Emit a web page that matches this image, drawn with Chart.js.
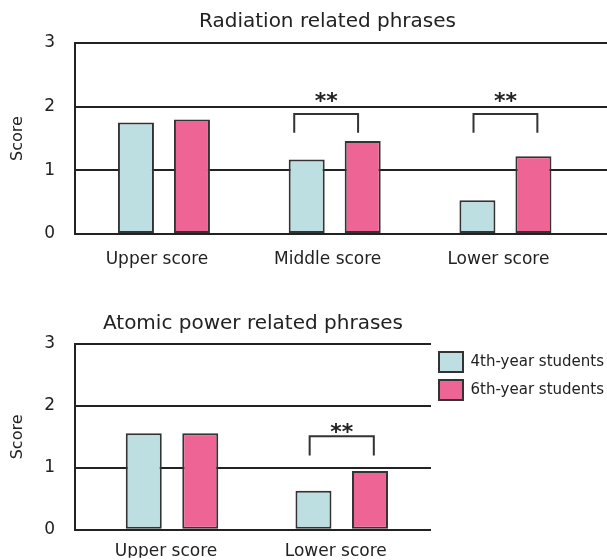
<!DOCTYPE html>
<html>
<head>
<meta charset="utf-8">
<script src="https://cdn.jsdelivr.net/npm/chart.js@4.4.1/dist/chart.umd.min.js"></script>
<style>
html, body { margin: 0; padding: 0; background: #fff; overflow: hidden; }
#wrap { position: relative; width: 607px; height: 560px; overflow: hidden; }
#top { position: absolute; left: 0; top: 0; width: 655px; height: 269px; }
#bottom { position: absolute; left: 0; top: 289px; width: 607px; height: 271px; }
</style>
</head>
<body>
<div id="wrap">
  <div id="top"><canvas id="radiation"></canvas></div>
  <div id="bottom"><canvas id="atomic"></canvas></div>
</div>
<script>
// data
const seriesNames = ['4th-year students', '6th-year students'];

const radCategories = ['Upper score', 'Middle score', 'Lower score'];
const rad4th = [1.75, 1.17, 0.53];
const rad6th = [1.80, 1.46, 1.22];
const radStars = ['', '**', '**'];

const atomCategories = ['Upper score', 'Lower score'];
const atom4th = [1.56, 0.63];
const atom6th = [1.56, 0.95];
const atomStars = ['', '**'];

const scoreTicks = [0, 1, 2, 3];

const TEAL = '#BDDFE2';
const PINK = '#EE6595';
const INK = '#222';
const FONT = '"DejaVu Sans", Verdana, sans-serif';

Chart.defaults.font.family = FONT;
Chart.defaults.color = INK;

// significance brackets with stars above a category
const brackets = {
    id: 'brackets',
    afterDatasetsDraw(chart, args, opts) {
        const { ctx, scales: { x, y } } = chart;
        const half = x.getPixelForValue(opts.halfWidth) - x.getPixelForValue(0);
        const yTop = y.getPixelForValue(opts.top);
        const yLeg = y.getPixelForValue(opts.top - opts.leg);
        ctx.save();
        ctx.strokeStyle = '#333';
        ctx.lineWidth = 2;
        ctx.fillStyle = INK;
        ctx.font = 'bold 22px ' + FONT;
        ctx.textAlign = 'center';
        ctx.textBaseline = 'alphabetic';
        opts.stars.forEach((s, i) => {
            if (!s) return;
            const cx = x.getPixelForValue(i + (opts.shift[i] || 0));
            ctx.beginPath();
            ctx.moveTo(cx - half, yLeg);
            ctx.lineTo(cx - half, yTop);
            ctx.lineTo(cx + half, yTop);
            ctx.lineTo(cx + half, yLeg);
            ctx.stroke();
            ctx.fillText(s, cx, y.getPixelForValue(opts.starY) + 12);
        });
        ctx.restore();
    }
};

function datasets(a, b) {
    return [a, b].map((vals, k) => ({
        label: seriesNames[k],
        data: vals.map((v, i) => ({ x: i, y: v })),
        backgroundColor: k === 0 ? TEAL : PINK,
        borderColor: '#333',
        borderWidth: 2,
        borderSkipped: false
    }));
}

function scoreAxis() {
    return {
        min: 0,
        max: 3,
        afterBuildTicks: s => { s.ticks = scoreTicks.map(v => ({ value: v })); },
        afterFit: s => { s.width = 75; },
        grid: { color: INK, lineWidth: 2, drawTicks: false },
        border: { display: true, color: INK, width: 2 },
        ticks: { padding: 20, font: { size: 17 }, color: INK },
        title: { display: true, text: 'Score', font: { size: 16 }, color: INK, padding: { top: 8, bottom: 4 } }
    };
}

function categoryAxis(cats, min, max, pad, shift, height) {
    return {
        type: 'linear',
        min: min,
        max: max,
        offset: false,
        afterBuildTicks: s => { s.ticks = cats.map((c, i) => ({ value: i })); },
        afterFit: s => { s.height = height; },
        grid: { display: false, drawTicks: false },
        border: { display: false },
        ticks: {
            padding: pad,
            labelOffset: shift,
            maxRotation: 0,
            font: { size: 17 },
            color: INK,
            callback: v => cats[v]
        }
    };
}

new Chart(document.getElementById('radiation'), {
    type: 'bar',
    data: { datasets: datasets(rad4th, rad6th) },
    plugins: [brackets],
    options: {
        responsive: true,
        maintainAspectRatio: false,
        animation: false,
        events: [],
        categoryPercentage: 0.656,
        barPercentage: 0.643,
        layout: { padding: 0 },
        scales: {
            x: categoryAxis(radCategories, -0.521, 2.876, 15, -7, 35),
            y: scoreAxis()
        },
        plugins: {
            legend: { display: false },
            tooltip: { enabled: false },
            title: {
                display: true,
                text: 'Radiation related phrases',
                font: { size: 20, weight: 'normal' },
                color: INK,
                padding: { top: 10, bottom: 9 }
            },
            brackets: { stars: radStars, shift: [0, -0.05, 0], halfWidth: 0.187, top: 1.885, leg: 0.295, starY: 2.16 }
        }
    }
});

new Chart(document.getElementById('atomic'), {
    type: 'bar',
    data: { datasets: datasets(atom4th, atom6th) },
    plugins: [brackets],
    options: {
        responsive: true,
        maintainAspectRatio: false,
        animation: false,
        events: [],
        categoryPercentage: 0.666,
        barPercentage: 0.637,
        layout: { padding: 0 },
        scales: {
            x: categoryAxis(atomCategories, -0.5716, 1.526, 12, -6, 28),
            y: scoreAxis()
        },
        plugins: {
            legend: {
                display: true,
                position: 'right',
                align: 'start',
                fullSize: false,
                maxWidth: 176,
                labels: {
                    boxWidth: 24,
                    boxHeight: 20,
                    padding: 8,
                    color: INK,
                    font: { size: 15 }
                }
            },
            tooltip: { enabled: false },
            title: {
                display: true,
                text: 'Atomic power related phrases',
                fullSize: false,
                font: { size: 20, weight: 'normal' },
                color: INK,
                padding: { top: 23, bottom: 8 }
            },
            brackets: { stars: atomStars, shift: [0, 0], halfWidth: 0.189, top: 1.51, leg: 0.31, starY: 1.66 }
        }
    }
});
</script>
</body>
</html>
